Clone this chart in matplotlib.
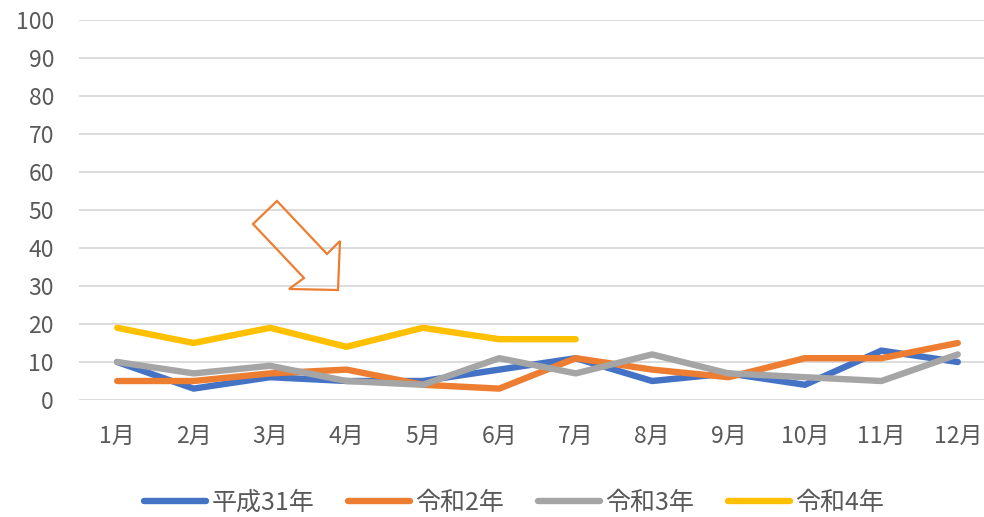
import matplotlib.pyplot as plt
from matplotlib.patches import Polygon

plt.rcParams['font.family'] = ['Noto Sans CJK JP', 'DejaVu Sans']

# Data
months = ['1月', '2月', '3月', '4月', '5月', '6月', '7月', '8月', '9月', '10月', '11月', '12月']
h31 = [10, 3, 6, 5, 5, 8, 11, 5, 7, 4, 13, 10]
r2 = [5, 5, 7, 8, 4, 3, 11, 8, 6, 11, 11, 15]
r3 = [10, 7, 9, 5, 4, 11, 7, 12, 7, 6, 5, 12]
r4 = [19, 15, 19, 14, 19, 16, 16]
series_names = ['平成31年', '令和2年', '令和3年', '令和4年']
colors = ['#4472C4', '#ED7D31', '#A5A5A5', '#FFC000']

W, H = 984, 517
fig = plt.figure(figsize=(W / 100, H / 100), dpi=100)
ax = fig.add_axes([79 / W, 117 / H, (996 - 79) / W, 380 / H])

x = list(range(1, 13))
for vals, name, c in zip([h31, r2, r3, r4], series_names, colors):
    ax.plot(x[:len(vals)], vals, color=c, lw=4.6, label=name,
            solid_capstyle='round', solid_joinstyle='round')

ax.set_xlim(0.5, 12.5)
ax.set_ylim(0, 100)
ax.set_yticks(range(0, 101, 10))
ax.set_xticks(x)
ax.set_xticklabels(months)
ax.grid(axis='y', color='#D9D9D9', lw=1.3)
ax.set_axisbelow(True)
for s in ax.spines.values():
    s.set_visible(False)
ax.tick_params(length=0, labelsize=16.5, labelcolor='#595959')
ax.tick_params(axis='y', pad=18)
ax.tick_params(axis='x', pad=18)

# block arrow annotation (figure pixel coords)
pts = [(277, 201), (253, 224), (304, 278), (289, 289), (338, 290), (340, 241), (327, 254)]
arrow = Polygon([(px / W, 1 - py / H) for px, py in pts], closed=True,
                fill=False, edgecolor='#ED7D31', lw=1.6, transform=fig.transFigure)
fig.patches.append(arrow)

fig.legend(loc='center', bbox_to_anchor=(514 / W, 1 - 503 / H), ncol=4,
           frameon=False, fontsize=18, handlelength=2.5, handletextpad=0.2,
           columnspacing=1.35, labelcolor='#595959', borderpad=0)

fig.savefig('out.png', dpi=100)
